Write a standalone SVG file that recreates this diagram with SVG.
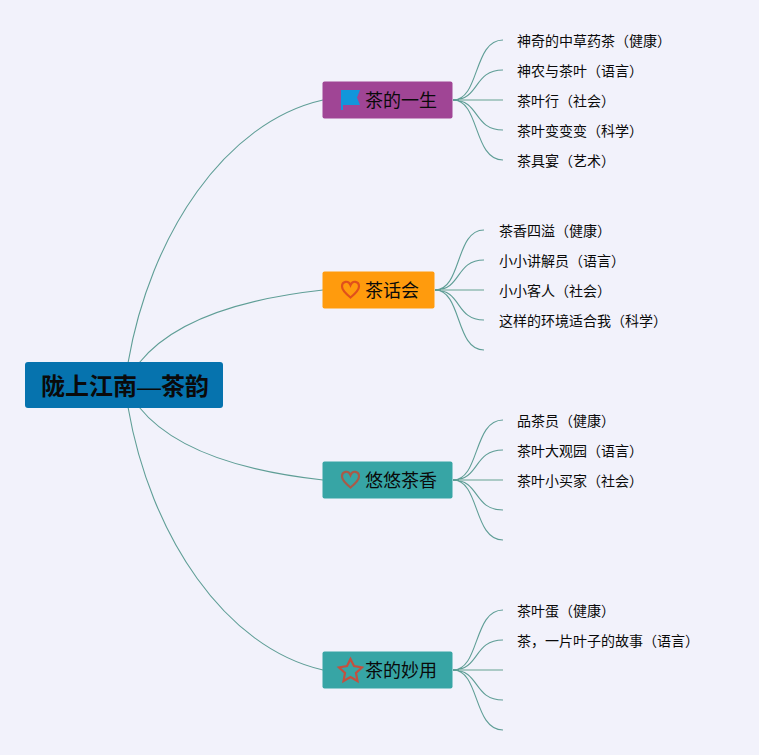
<svg xmlns="http://www.w3.org/2000/svg" width="759" height="755" viewBox="0 0 759 755">
<style>
text{font-family:"Noto Sans CJK SC","Liberation Sans",sans-serif;fill:#0a0a0a}
.leaf{font-size:14px}
.branch{font-size:18px}
.root{font-size:24px;font-weight:700}
.dash{font-family:"Liberation Sans",sans-serif;font-weight:400}
.c{fill:none;stroke:#5f9e96;stroke-width:1.100}
.s{fill:none;stroke:#93bdb5;stroke-width:1.600}
.t{fill:none;stroke:#5f9e96;stroke-width:2}
.ic{fill:none;stroke-width:2.200}
</style>
<rect width="759" height="755" fill="#f2f2fb"/>
<g id="connectors">
<path class="c" d="M128 363C150 235 225 122 323 100"/>
<path class="c" d="M139 363C175 318 250 298 323 290"/>
<path class="c" d="M139 407C175 452 250 472 323 480"/>
<path class="c" d="M128 407C150 535 225 648 323 670"/>
<path class="c" d="M453 100C480 100 473 40 503 40M453 100C480 100 473 70 503 70M453 100C480 100 473 130 503 130M453 100C480 100 473 160 503 160"/>
<path class="s" d="M453 100H503"/><path class="t" d="M453 100H459"/>
<path class="c" d="M435 290C462 290 455 230 484 230M435 290C462 290 455 260 484 260M435 290C462 290 455 320 484 320M435 290C462 290 455 350 484 350"/>
<path class="s" d="M435 290H484"/><path class="t" d="M435 290H441"/>
<path class="c" d="M453 480C480 480 473 420 503 420M453 480C480 480 473 450 503 450M453 480C480 480 473 510 503 510M453 480C480 480 473 540 503 540"/>
<path class="s" d="M453 480H503"/><path class="t" d="M453 480H459"/>
<path class="c" d="M453 670C480 670 473 610 503 610M453 670C480 670 473 640 503 640M453 670C480 670 473 700 503 700M453 670C480 670 473 730 503 730"/>
<path class="s" d="M453 670H503"/><path class="t" d="M453 670H459"/>
</g>
<g id="root"><rect x="25" y="362" width="198" height="46" rx="3" fill="#0673ae"/><text class="root" x="41" y="395">陇上江南<tspan class="dash">—</tspan>茶韵</text></g>
<g id="branch1"><rect x="322.500" y="81.500" width="130" height="37" rx="2" fill="#a04595"/>
<path d="M341 90H360L357 97.500 360 105H343V110H341Z" fill="#1296db"/>
<text class="branch" x="365" y="107">茶的一生</text></g>
<g id="branch2"><rect x="322.500" y="271.500" width="112" height="37" rx="2" fill="#ff9b0d"/>
<path class="ic" stroke="#e0501c" d="M350.500 297.500C345 293 342 290 342 286.500C342 281 348.500 280 350.500 285C352.500 280 359 281 359 286.500C359 290 356 293 350.500 297.500Z"/>
<text class="branch" x="365" y="297">茶话会</text></g>
<g id="branch3"><rect x="322.500" y="461.500" width="130" height="37" rx="2" fill="#37a5a5"/>
<path class="ic" stroke="#a95a48" d="M350.500 487.500C345 483 342 480 342 476.500C342 471 348.500 470 350.500 475C352.500 470 359 471 359 476.500C359 480 356 483 350.500 487.500Z"/>
<text class="branch" x="365" y="487">悠悠茶香</text></g>
<g id="branch4"><rect x="322.500" y="651.500" width="130" height="37" rx="2" fill="#37a5a5"/>
<path class="ic" stroke="#c4503f" d="M350.500 659L354 666 362 667.500 356 673 357.500 681 350.500 677 343.500 681 345 673 339 667.500 347 666Z"/>
<text class="branch" x="365" y="677">茶的妙用</text></g>
<g id="leaves1">
<text class="leaf" x="517" y="46">神奇的中草药茶（健康）</text>
<text class="leaf" x="517" y="76">神农与茶叶（语言）</text>
<text class="leaf" x="517" y="106">茶叶行（社会）</text>
<text class="leaf" x="517" y="136">茶叶变变变（科学）</text>
<text class="leaf" x="517" y="166">茶具宴（艺术）</text>
</g>
<g id="leaves2">
<text class="leaf" x="499" y="236">茶香四溢（健康）</text>
<text class="leaf" x="499" y="266">小小讲解员（语言）</text>
<text class="leaf" x="499" y="296">小小客人（社会）</text>
<text class="leaf" x="499" y="326">这样的环境适合我（科学）</text>
</g>
<g id="leaves3">
<text class="leaf" x="517" y="426">品茶员（健康）</text>
<text class="leaf" x="517" y="456">茶叶大观园（语言）</text>
<text class="leaf" x="517" y="486">茶叶小买家（社会）</text>
</g>
<g id="leaves4">
<text class="leaf" x="517" y="616">茶叶蛋（健康）</text>
<text class="leaf" x="517" y="646">茶，一片叶子的故事（语言）</text>
</g>
</svg>
